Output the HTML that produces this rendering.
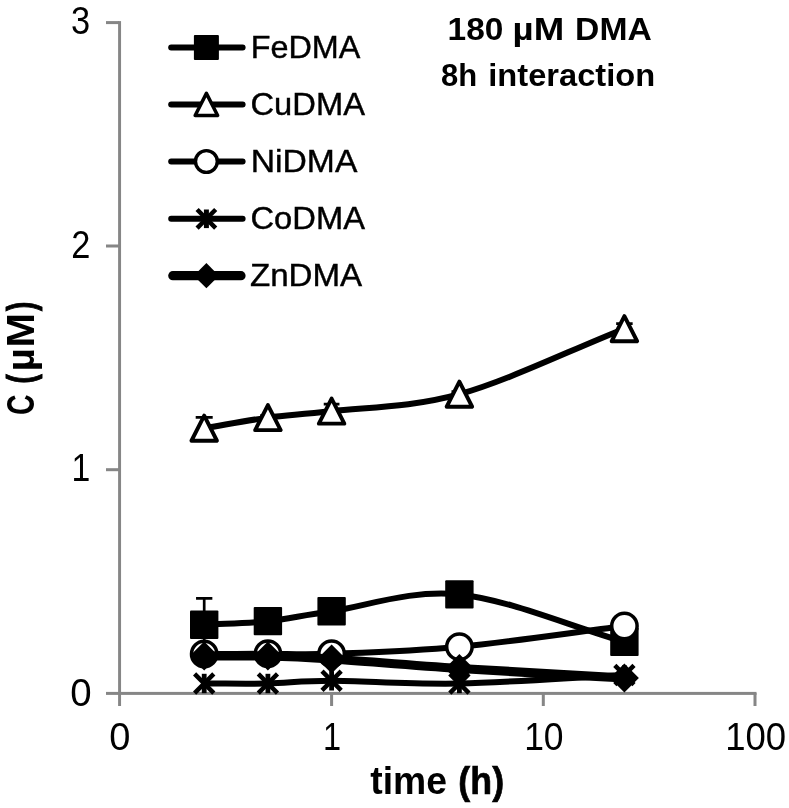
<!DOCTYPE html>
<html><head><meta charset="utf-8"><title>chart</title>
<style>
html,body{margin:0;padding:0;background:#fff;}
body{width:789px;height:808px;overflow:hidden;position:relative;}
text{font-family:"Liberation Sans",sans-serif;fill:#000;}
svg{will-change:transform;transform:translateZ(0);}
</style></head><body>
<svg width="789" height="808" viewBox="0 0 789 808" style="position:absolute;left:0;top:0">
<rect width="789" height="808" fill="#fff"/>
<g fill="#868686">
<rect x="118.1" y="21.1" width="2.95" height="684.9"/>
<rect x="106" y="691.9" width="650.5" height="3"/>
<rect x="106" y="468.20" width="13" height="3"/>
<rect x="106" y="244.50" width="13" height="3"/>
<rect x="106" y="21.10" width="13" height="3"/>
<rect x="330.10" y="693" width="3" height="13"/>
<rect x="541.80" y="693" width="3" height="13"/>
<rect x="753.50" y="693" width="3" height="13"/>
</g>
<path d="M204.20,598.40 V651.20 M196.05,598.40 H212.35 M196.05,651.20 H212.35" stroke="#000" stroke-width="2.7" fill="none"/>
<path d="M204.20,624.80 C225.43,623.57 246.67,623.37 267.90,621.10 C289.13,618.83 299.68,615.65 331.60,611.20 C363.52,606.75 410.60,589.28 459.40,594.40 C508.20,599.52 569.40,626.07 624.40,641.90" fill="none" stroke="#000" stroke-width="6" stroke-linecap="round" stroke-linejoin="round"/>
<rect x="190.00" y="610.60" width="28.4" height="28.4" rx="1" fill="#000"/>
<rect x="253.70" y="606.90" width="28.4" height="28.4" rx="1" fill="#000"/>
<rect x="317.40" y="597.00" width="28.4" height="28.4" rx="1" fill="#000"/>
<rect x="445.20" y="580.20" width="28.4" height="28.4" rx="1" fill="#000"/>
<rect x="610.20" y="627.70" width="28.4" height="28.4" rx="1" fill="#000"/>
<path d="M204.20,417.30 V439.10 M195.70,417.30 H212.70 M195.70,439.10 H212.70" stroke="#000" stroke-width="2.7" fill="none"/>
<path d="M267.90,415.60 V419.60 M260.15,415.60 H275.65 M260.15,419.60 H275.65" stroke="#000" stroke-width="2.7" fill="none"/>
<path d="M331.60,404.10 V418.10 M323.75,404.10 H339.45 M323.75,418.10 H339.45" stroke="#000" stroke-width="2.7" fill="none"/>
<path d="M459.40,391.60 V396.80 M451.50,391.60 H467.30 M451.50,396.80 H467.30" stroke="#000" stroke-width="2.7" fill="none"/>
<path d="M624.40,323.70 V333.70 M616.15,323.70 H632.65 M616.15,333.70 H632.65" stroke="#000" stroke-width="2.7" fill="none"/>
<path d="M204.20,428.20 C225.43,424.67 246.67,420.45 267.90,417.60 C289.13,414.75 299.68,415.00 331.60,411.10 C363.52,407.20 410.60,407.93 459.40,394.20 C508.20,380.47 569.40,350.53 624.40,328.70" fill="none" stroke="#000" stroke-width="6" stroke-linecap="round" stroke-linejoin="round"/>
<path d="M204.20,415.65 L216.95,440.75 L191.45,440.75 Z" fill="#fff" stroke="#000" stroke-width="3.9" stroke-linejoin="round"/>
<path d="M267.90,405.05 L280.65,430.15 L255.15,430.15 Z" fill="#fff" stroke="#000" stroke-width="3.9" stroke-linejoin="round"/>
<path d="M331.60,398.55 L344.35,423.65 L318.85,423.65 Z" fill="#fff" stroke="#000" stroke-width="3.9" stroke-linejoin="round"/>
<path d="M459.40,381.65 L472.15,406.75 L446.65,406.75 Z" fill="#fff" stroke="#000" stroke-width="3.9" stroke-linejoin="round"/>
<path d="M624.40,316.15 L637.15,341.25 L611.65,341.25 Z" fill="#fff" stroke="#000" stroke-width="3.9" stroke-linejoin="round"/>
<path d="M204.20,654.00 C225.43,653.93 246.67,653.83 267.90,653.80 C289.13,653.77 299.68,654.97 331.60,653.80 C363.52,652.63 410.60,651.43 459.40,646.80 C508.20,642.17 569.40,632.93 624.40,626.00" fill="none" stroke="#000" stroke-width="6" stroke-linecap="round" stroke-linejoin="round"/>
<circle cx="204.20" cy="654.00" r="12.7" fill="#fff" stroke="#000" stroke-width="3.5"/>
<circle cx="267.90" cy="653.80" r="12.7" fill="#fff" stroke="#000" stroke-width="3.5"/>
<circle cx="331.60" cy="653.80" r="12.7" fill="#fff" stroke="#000" stroke-width="3.5"/>
<circle cx="459.40" cy="646.80" r="12.7" fill="#fff" stroke="#000" stroke-width="3.5"/>
<circle cx="624.40" cy="626.00" r="12.7" fill="#fff" stroke="#000" stroke-width="3.5"/>
<path d="M204.20,683.50 C225.43,683.50 246.67,683.95 267.90,683.50 C289.13,683.05 299.68,680.80 331.60,680.80 C363.52,680.80 410.60,684.47 459.40,683.50 C508.20,682.53 569.40,677.83 624.40,675.00" fill="none" stroke="#000" stroke-width="6" stroke-linecap="round" stroke-linejoin="round"/>
<path d="M194.60,673.90 L213.80,693.10 M194.60,693.10 L213.80,673.90" stroke="#000" stroke-width="4.5" fill="none"/><path d="M204.20,673.80 L204.20,693.20" stroke="#000" stroke-width="4.8" fill="none"/>
<path d="M258.30,673.90 L277.50,693.10 M258.30,693.10 L277.50,673.90" stroke="#000" stroke-width="4.5" fill="none"/><path d="M267.90,673.80 L267.90,693.20" stroke="#000" stroke-width="4.8" fill="none"/>
<path d="M322.00,671.20 L341.20,690.40 M322.00,690.40 L341.20,671.20" stroke="#000" stroke-width="4.5" fill="none"/><path d="M331.60,671.10 L331.60,690.50" stroke="#000" stroke-width="4.8" fill="none"/>
<path d="M449.80,673.90 L469.00,693.10 M449.80,693.10 L469.00,673.90" stroke="#000" stroke-width="4.5" fill="none"/><path d="M459.40,673.80 L459.40,693.20" stroke="#000" stroke-width="4.8" fill="none"/>
<path d="M614.80,665.40 L634.00,684.60 M614.80,684.60 L634.00,665.40" stroke="#000" stroke-width="4.5" fill="none"/><path d="M624.40,665.30 L624.40,684.70" stroke="#000" stroke-width="4.8" fill="none"/>
<path d="M204.20,656.00 C225.43,656.00 246.67,655.50 267.90,656.00 C289.13,656.50 299.68,656.92 331.60,659.00 C363.52,661.08 410.60,665.33 459.40,668.50 C508.20,671.67 569.40,674.83 624.40,678.00" fill="none" stroke="#000" stroke-width="9.2" stroke-linecap="round" stroke-linejoin="round"/>
<path d="M204.20,641.50 L218.70,656.00 L204.20,670.50 L189.70,656.00 Z" fill="#000"/>
<path d="M267.90,641.50 L282.40,656.00 L267.90,670.50 L253.40,656.00 Z" fill="#000"/>
<path d="M331.60,644.50 L346.10,659.00 L331.60,673.50 L317.10,659.00 Z" fill="#000"/>
<path d="M459.40,654.00 L473.90,668.50 L459.40,683.00 L444.90,668.50 Z" fill="#000"/>
<path d="M624.40,663.50 L638.90,678.00 L624.40,692.50 L609.90,678.00 Z" fill="#000"/>
<path d="M171.20,47.6 H242.60" stroke="#000" stroke-width="6" stroke-linecap="round"/>
<rect x="193.90" y="35.10" width="25" height="25" rx="1" fill="#000"/>
<path d="M171.20,104.4 H242.60" stroke="#000" stroke-width="6" stroke-linecap="round"/>
<path d="M206.40,93.35 L217.65,115.45 L195.15,115.45 Z" fill="#fff" stroke="#000" stroke-width="3.5" stroke-linejoin="round"/>
<path d="M171.20,161.5 H242.60" stroke="#000" stroke-width="6" stroke-linecap="round"/>
<circle cx="206.40" cy="161.50" r="10.9" fill="#fff" stroke="#000" stroke-width="3.4"/>
<path d="M171.20,218.8 H242.60" stroke="#000" stroke-width="6" stroke-linecap="round"/>
<path d="M197.10,209.50 L215.70,228.10 M197.10,228.10 L215.70,209.50" stroke="#000" stroke-width="4.5" fill="none"/><path d="M206.40,209.50 L206.40,228.10" stroke="#000" stroke-width="5" fill="none"/>
<path d="M172.80,275.7 H241.00" stroke="#000" stroke-width="9.2" stroke-linecap="round"/>
<path d="M206.40,263.10 L219.00,275.70 L206.40,288.30 L193.80,275.70 Z" fill="#000"/>
<text x="250.68" y="58.10" textLength="109.66" lengthAdjust="spacingAndGlyphs" style="font-size:30.5px;font-weight:normal;stroke:#000;stroke-width:0.4px">FeDMA</text>
<text x="250.53" y="114.90" textLength="114.42" lengthAdjust="spacingAndGlyphs" style="font-size:30.5px;font-weight:normal;stroke:#000;stroke-width:0.4px">CuDMA</text>
<text x="250.79" y="172.10" textLength="106.56" lengthAdjust="spacingAndGlyphs" style="font-size:30.5px;font-weight:normal;stroke:#000;stroke-width:0.4px">NiDMA</text>
<text x="250.53" y="228.80" textLength="114.42" lengthAdjust="spacingAndGlyphs" style="font-size:30.5px;font-weight:normal;stroke:#000;stroke-width:0.4px">CoDMA</text>
<text x="249.91" y="286.30" textLength="112.21" lengthAdjust="spacingAndGlyphs" style="font-size:30.5px;font-weight:normal;stroke:#000;stroke-width:0.4px">ZnDMA</text>
<text x="447.64" y="40.30" textLength="55.82" lengthAdjust="spacingAndGlyphs" style="font-size:31.6px;font-weight:bold">180</text>
<text x="512.64" y="40.30" textLength="51.64" lengthAdjust="spacingAndGlyphs" style="font-size:31.6px;font-weight:bold">µM</text>
<text x="575.13" y="40.30" textLength="76.68" lengthAdjust="spacingAndGlyphs" style="font-size:31.6px;font-weight:bold">DMA</text>
<text x="441.10" y="86.30" textLength="36.16" lengthAdjust="spacingAndGlyphs" style="font-size:31.6px;font-weight:bold">8h</text>
<text x="488.27" y="86.30" textLength="166.87" lengthAdjust="spacingAndGlyphs" style="font-size:31.6px;font-weight:bold">interaction</text>
<text x="370.30" y="794.40" textLength="76.71" lengthAdjust="spacingAndGlyphs" style="font-size:38.4px;font-weight:bold">time</text>
<text x="458.37" y="794.40" textLength="45.69" lengthAdjust="spacingAndGlyphs" style="font-size:38.4px;font-weight:bold;stroke:#000;stroke-width:0.7px">(h)</text>
<text x="71.09" y="33.70" textLength="19.14" lengthAdjust="spacingAndGlyphs" style="font-size:38px;font-weight:normal">3</text>
<text x="71.29" y="257.50" textLength="19.14" lengthAdjust="spacingAndGlyphs" style="font-size:38px;font-weight:normal">2</text>
<text x="71.62" y="481.40" textLength="18.79" lengthAdjust="spacingAndGlyphs" style="font-size:38px;font-weight:normal">1</text>
<text x="70.39" y="705.50" textLength="21.36" lengthAdjust="spacingAndGlyphs" style="font-size:38px;font-weight:normal">0</text>
<text x="109.20" y="749.50" textLength="21.14" lengthAdjust="spacingAndGlyphs" style="font-size:38px;font-weight:normal">0</text>
<text x="323.09" y="749.50" textLength="18.09" lengthAdjust="spacingAndGlyphs" style="font-size:38px;font-weight:normal">1</text>
<text x="524.13" y="749.50" textLength="39.43" lengthAdjust="spacingAndGlyphs" style="font-size:38px;font-weight:normal">10</text>
<text x="725.18" y="749.50" textLength="60.91" lengthAdjust="spacingAndGlyphs" style="font-size:38px;font-weight:normal">100</text>
<text transform="translate(34.00,415.04) rotate(-90)" x="0" y="0" textLength="20.59" lengthAdjust="spacingAndGlyphs" style="font-size:38.4px;font-weight:bold">C</text>
<text transform="translate(34.00,383.52) rotate(-90)" x="0" y="0" textLength="9.17" lengthAdjust="spacingAndGlyphs" style="font-size:38.4px;font-weight:bold;stroke:#000;stroke-width:1px">(</text>
<text transform="translate(34.00,371.28) rotate(-90)" x="0" y="0" textLength="23.06" lengthAdjust="spacingAndGlyphs" style="font-size:38.4px;font-weight:bold">µ</text>
<text transform="translate(34.00,347.56) rotate(-90)" x="0" y="0" textLength="34.50" lengthAdjust="spacingAndGlyphs" style="font-size:38.4px;font-weight:bold">M</text>
<text transform="translate(34.00,311.00) rotate(-90)" x="0" y="0" textLength="9.38" lengthAdjust="spacingAndGlyphs" style="font-size:38.4px;font-weight:bold;stroke:#000;stroke-width:1px">)</text>
</svg>
</body></html>
